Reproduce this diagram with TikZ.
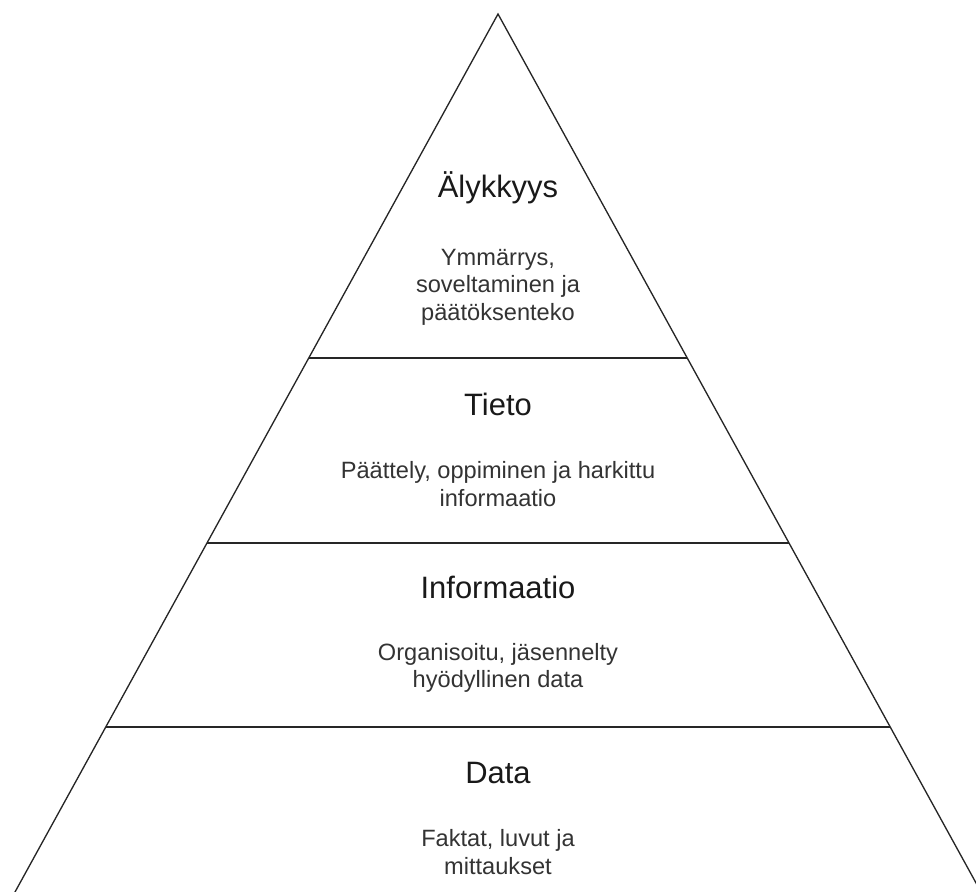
\documentclass[tikz,border=0pt]{standalone}
\usepackage{fontspec}
\setmainfont{Liberation Sans}
\begin{document}
\begin{tikzpicture}[x=0.75pt,y=-0.75pt]
\tikzstyle{edge}=[draw=black!85, line width=1pt]
\tikzstyle{level}=[inner sep=0pt, text=black!90, font=\fontsize{23.2}{27}\selectfont]
\tikzstyle{note}=[inner sep=0pt, align=center, text=black!80, font=\fontsize{17.7}{20.5}\selectfont]
\useasboundingbox (0,0) rectangle (976,892);
\clip (0,0) rectangle (976,892);
\coordinate (apex) at (498,14);
\coordinate (bl) at (4,912);
\coordinate (br) at (992,912);
\coordinate (l1) at (308.8,358);
\coordinate (r1) at (687.2,358);
\coordinate (l2) at (207,543);
\coordinate (r2) at (789,543);
\coordinate (l3) at (106,727);
\coordinate (r3) at (890,727);
\draw [edge] (bl.center) -- (apex.center) -- (br.center) -- cycle;
\draw [edge] (l1.center) -- (r1.center);
\draw [edge] (l2.center) -- (r2.center);
\draw [edge] (l3.center) -- (r3.center);
\node [level, anchor=base] (wisdom) at (498,197) {Älykkyys};
\node [note] (wisdomtxt) at (498,287) {Ymmärrys,\\soveltaminen ja\\päätöksenteko};
\node [level, anchor=base] (knowledge) at (498,415) {Tieto};
\node [note] (knowledgetxt) at (498,484) {Päättely, oppiminen ja harkittu\\informaatio};
\node [level, anchor=base] (info) at (498,598) {Informaatio};
\node [note] (infotxt) at (498,668) {Organisoitu, jäsennelty\\hyödyllinen data};
\node [level, anchor=base] (data) at (498,783) {Data};
\node [note] (datatxt) at (498,852) {Faktat, luvut ja\\mittaukset};
\end{tikzpicture}
\end{document}
